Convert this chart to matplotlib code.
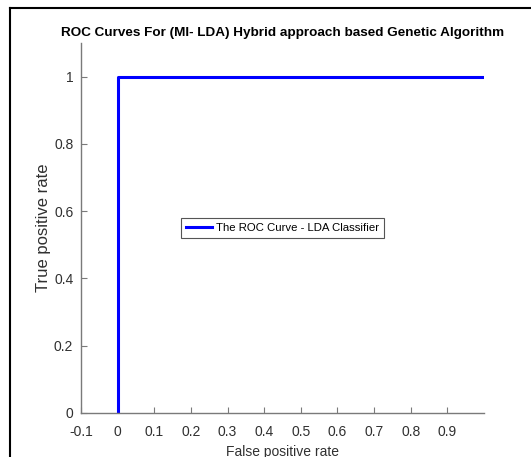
import matplotlib
matplotlib.use("Agg")
import matplotlib.pyplot as plt
from matplotlib.lines import Line2D

# ROC points
fpr = [0, 0, 1]
tpr = [0, 1, 1]
xticks = [-0.1, 0, 0.1, 0.2, 0.3, 0.4, 0.5, 0.6, 0.7, 0.8, 0.9]
xtick_labels = ['-0.1', '0', '0.1', '0.2', '0.3', '0.4', '0.5', '0.6', '0.7', '0.8', '0.9']
yticks = [0, 0.2, 0.4, 0.6, 0.8, 1]
ytick_labels = ['0', '0.2', '0.4', '0.6', '0.8', '1']

plt.rcParams['font.family'] = ['Liberation Sans', 'DejaVu Sans']

fig = plt.figure(figsize=(5.31, 4.57), dpi=100)
ax = fig.add_axes([0.1525, 0.0963, 0.759, 0.8097])

ax.plot(fpr, tpr, color='#0000ff', lw=2.2, label='The ROC Curve - LDA Classifier')
ax.set_xlim(-0.1, 1.0)
ax.set_ylim(0, 1.1)
ax.set_xticks(xticks)
ax.set_xticklabels(xtick_labels)
ax.set_yticks(yticks)
ax.set_yticklabels(ytick_labels)

for s in ['top', 'right']:
    ax.spines[s].set_visible(False)
for s in ['left', 'bottom']:
    ax.spines[s].set_color('#7a7a7a')
    ax.spines[s].set_linewidth(1.0)
ax.tick_params(direction='in', length=4, width=0.8, color='#7a7a7a',
               labelsize=10, labelcolor='#303030')
ax.tick_params(axis='x', pad=8.5)
ax.tick_params(axis='y', pad=5.5)

ax.set_xlabel('False positive rate', fontsize=10, color='#303030', labelpad=4.5)
ax.set_ylabel('True positive rate', fontsize=12, color='#303030', labelpad=2)
ax.set_title('ROC Curves For (MI- LDA) Hybrid approach based Genetic Algorithm',
             fontsize=9.7, fontweight='bold', pad=5)

leg = ax.legend(loc='center', fontsize=8.2, fancybox=False, framealpha=1,
                edgecolor='#555555', handlelength=2.3, handletextpad=0.35,
                borderpad=0.45)
leg.get_frame().set_linewidth(0.8)

# outer frame of the figure
fig.add_artist(Line2D([10 / 531, 10 / 531], [0, 1 - 8 / 457], color='black', lw=1.5))
fig.add_artist(Line2D([10 / 531, 1], [1 - 8 / 457, 1 - 8 / 457], color='black', lw=1.5))

fig.savefig('out.png', dpi=100)
